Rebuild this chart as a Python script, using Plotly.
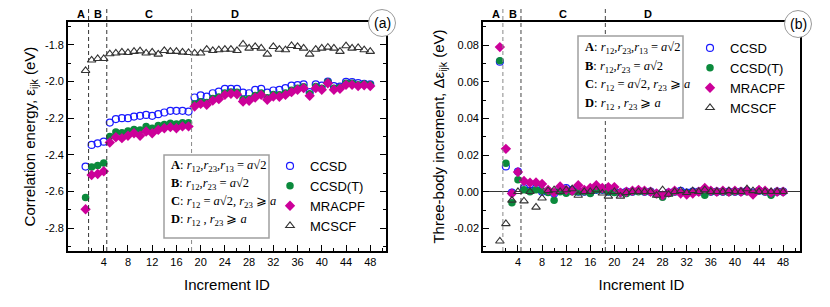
import plotly.graph_objects as go

W, H = 830, 307

# ---------------- data ----------------
increment_id = list(range(1, 49))

ccsd_corr = [-2.464,
             -2.346, -2.337, -2.328,
             -2.224, -2.205, -2.200, -2.200, -2.191, -2.187, -2.182, -2.187, -2.178, -2.169, -2.160, -2.160, -2.160, -2.164,
             -2.087, -2.076, -2.082, -2.064, -2.055, -2.040, -2.040, -2.040, -2.060, -2.064, -2.045, -2.040, -2.060, -2.049,
             -2.045, -2.036, -2.022, -2.020, -2.016, -2.058, -2.016, -2.022, -2.000, -2.025, -2.028, -2.002, -2.003, -2.009,
             -2.012, -2.016]
ccsdt_corr = [-2.633,
              -2.467, -2.458, -2.445,
              -2.300, -2.275, -2.280, -2.270, -2.262, -2.265, -2.245, -2.255, -2.240, -2.235, -2.228, -2.232, -2.225, -2.225,
              -2.122, -2.110, -2.114, -2.092, -2.084, -2.062, -2.057, -2.058, -2.097, -2.094, -2.076, -2.062, -2.088, -2.071,
              -2.072, -2.062, -2.048, -2.036, -2.028, -2.067, -2.027, -2.036, -2.003, -2.036, -2.032, -2.010, -2.010, -2.017,
              -2.013, -2.017]
mracpf_corr = [-2.697,
               -2.510, -2.505, -2.490,
               -2.333, -2.304, -2.309, -2.296, -2.282, -2.296, -2.273, -2.282, -2.264, -2.255, -2.249, -2.255, -2.245, -2.245,
               -2.136, -2.122, -2.127, -2.104, -2.096, -2.073, -2.067, -2.069, -2.109, -2.105, -2.087, -2.073, -2.100, -2.082,
               -2.083, -2.073, -2.058, -2.045, -2.036, -2.078, -2.036, -2.045, -2.009, -2.045, -2.040, -2.018, -2.018, -2.025,
               -2.020, -2.025]
mcscf_corr = [-1.940,
              -1.883, -1.875, -1.875,
              -1.849, -1.845, -1.840, -1.842, -1.836, -1.833, -1.845, -1.840, -1.851, -1.831, -1.836, -1.836, -1.840, -1.842,
              -1.845, -1.845, -1.824, -1.831, -1.827, -1.824, -1.824, -1.831, -1.796, -1.818, -1.809, -1.818, -1.851, -1.809,
              -1.824, -1.827, -1.804, -1.809, -1.818, -1.851, -1.824, -1.818, -1.813, -1.818, -1.836, -1.805, -1.818, -1.815,
              -1.827, -1.836]

ccsd_inc = [0.0710, 0.0138, -0.0005, 0.0110, 0.0020, 0.0005, 0.0020, 0.0000, 0.0000, -0.0010, 0.0005, 0.0020,
            0.0010, 0.0000, 0.0000, -0.0005, 0.0010, 0.0010, 0.0000, 0.0000, -0.0005, 0.0000, 0.0000, 0.0005,
            0.0000, 0.0000, -0.0010, -0.0020, -0.0005, 0.0000, 0.0005, -0.0005, 0.0000, 0.0000, 0.0000, 0.0000,
            0.0000, 0.0000, 0.0000, 0.0000, 0.0000, 0.0005, -0.0005, 0.0005, 0.0000, -0.0010, 0.0000, 0.0000]
ccsdt_inc = [0.0715, 0.0156, -0.0060, 0.0065, 0.0011, 0.0000, 0.0010, 0.0005, -0.0005, -0.0047, 0.0000, -0.0009,
             0.0000, 0.0000, 0.0000, -0.0010, 0.0010, 0.0010, 0.0000, -0.0005, -0.0005, -0.0010, 0.0000, 0.0000,
             0.0000, 0.0000, -0.0015, -0.0030, -0.0010, 0.0000, -0.0005, -0.0010, -0.0005, 0.0000, -0.0020, 0.0000,
             0.0000, 0.0000, -0.0005, 0.0000, 0.0000, 0.0000, -0.0010, 0.0005, 0.0000, -0.0020, 0.0000, 0.0000]
mracpf_inc = [0.0790, 0.0234, -0.0010, 0.0107, 0.0058, 0.0049, 0.0050, 0.0042, 0.0010, -0.0005, 0.0029, 0.0010,
              0.0005, 0.0035, 0.0010, 0.0020, 0.0035, 0.0020, 0.0025, 0.0025, -0.0005, 0.0000, 0.0005, 0.0010,
              0.0005, 0.0000, -0.0010, -0.0020, -0.0005, 0.0005, -0.0010, -0.0015, -0.0010, 0.0000, 0.0020, 0.0005,
              0.0000, 0.0005, 0.0000, 0.0005, 0.0000, 0.0005, -0.0015, 0.0010, 0.0005, -0.0005, 0.0000, 0.0000]
mcscf_inc = [-0.0270, -0.0175, -0.0047, 0.0000, -0.0051, 0.0000, -0.0085, -0.0035, 0.0005, 0.0010, 0.0000, 0.0010,
             0.0015, -0.0020, 0.0000, 0.0000, 0.0010, -0.0008, -0.0025, 0.0000, -0.0025, -0.0005, 0.0000, 0.0000,
             0.0000, 0.0000, -0.0020, 0.0010, -0.0015, 0.0000, 0.0005, -0.0005, 0.0005, 0.0000, 0.0010, 0.0000,
             0.0000, 0.0000, 0.0005, 0.0000, 0.0000, 0.0015, 0.0005, 0.0000, 0.0000, 0.0000, 0.0000, 0.0000]

method_names = ["CCSD", "CCSD(T)", "MRACPF", "MCSCF"]
region_bounds = [1.5, 4.5, 18.5]
region_labels = ["A", "B", "C", "D"]
region_label_x = [0.3, 3.1, 11.4, 25.6]
x_tickvals = list(range(4, 49, 4))
corr_ticks = [-2.8, -2.6, -2.4, -2.2, -2.0, -1.8]
inc_ticks = [-0.02, 0.0, 0.02, 0.04, 0.06, 0.08]

# ---------------- style ----------------
SANS = "Arial, Liberation Sans, sans-serif"
SERIF = "Times New Roman, Liberation Serif, serif"
styles = {
    "CCSD": dict(symbol="circle-open", size=7, color="#1a1aff", line=dict(width=1.2, color="#1a1aff")),
    "CCSD(T)": dict(symbol="circle", size=7.5, color="#0b8a3c", line=dict(width=0)),
    "MRACPF": dict(symbol="diamond", size=8, color="#cc0099", line=dict(width=0)),
    "MCSCF": dict(symbol="triangle-up-open", size=7.5, color="#333333", line=dict(width=1.1, color="#333333")),
}


def px_x(p):
    return p / W


def px_y(p):
    return 1 - p / H


fig = go.Figure()

corr_sets = [ccsd_corr, ccsdt_corr, mracpf_corr, mcscf_corr]
inc_sets = [ccsd_inc, ccsdt_inc, mracpf_inc, mcscf_inc]
for name, ys in zip(method_names, corr_sets):
    fig.add_trace(go.Scatter(x=increment_id, y=ys, mode="markers", name=name,
                             marker=styles[name], xaxis="x", yaxis="y", legend="legend"))
for name, ys in zip(method_names, inc_sets):
    fig.add_trace(go.Scatter(x=increment_id, y=ys, mode="markers", name=name,
                             marker=styles[name], xaxis="x2", yaxis="y2", legend="legend2"))

ydom = [px_y(251), px_y(22)]
axis_common = dict(showline=True, linecolor="black", linewidth=1.6, ticks="inside", ticklen=6,
                   tickwidth=1.2, tickcolor="black", showgrid=False, zeroline=False, automargin=False,
                   tickfont=dict(family=SANS, size=11, color="black"))

fig.update_layout(
    xaxis=dict(domain=[px_x(68), px_x(386)], range=[-1.9, 50.6], anchor="y", mirror=True,
               tickmode="array", tickvals=x_tickvals,
               minor=dict(tickvals=[v - 2 for v in x_tickvals] + [50], ticks="inside", ticklen=3, tickcolor="black"),
               title=dict(text="Increment ID", font=dict(family=SANS, size=15), standoff=12), **axis_common),
    yaxis=dict(domain=ydom, range=[-2.925, -1.675], anchor="x", mirror="ticks",
               tickmode="array", tickvals=corr_ticks, ticktext=[f"{v:.1f}" for v in corr_ticks],
               minor=dict(dtick=0.1, tick0=-1.9, ticks="inside", ticklen=3, tickcolor="black"),
               title=dict(text="Correlation energy, ε<sub>ijk</sub> (eV)", font=dict(family=SANS, size=15),
                          standoff=6), **axis_common),
    xaxis2=dict(domain=[px_x(483), px_x(800)], range=[-1.8, 50.8], anchor="y2", mirror=True,
                tickmode="array", tickvals=x_tickvals,
                minor=dict(tickvals=[v - 2 for v in x_tickvals] + [50], ticks="inside", ticklen=3, tickcolor="black"),
                title=dict(text="Increment ID", font=dict(family=SANS, size=15), standoff=12), **axis_common),
    yaxis2=dict(domain=ydom, range=[-0.0324, 0.0927], anchor="x2", mirror=True,
                tickmode="array", tickvals=inc_ticks, ticktext=[f"{v:.2f}" for v in inc_ticks],
                minor=dict(dtick=0.01, tick0=0, ticks="inside", ticklen=3, tickcolor="black"),
                title=dict(text="Three-body increment, Δε<sub>ijk</sub> (eV)", font=dict(family=SANS, size=15),
                           standoff=6), **axis_common),
)
fig.layout.yaxis2.zeroline = True
fig.layout.yaxis2.zerolinecolor = "#333333"
fig.layout.yaxis2.zerolinewidth = 1.4

fig.update_layout(
    width=W, height=H, autosize=False, template="none",
    margin=dict(l=0, r=0, t=0, b=0),
    paper_bgcolor="white", plot_bgcolor="white",
    font=dict(family=SANS, size=12, color="black"),
    legend=dict(x=px_x(270), y=px_y(151), xanchor="left", yanchor="top", bgcolor="rgba(0,0,0,0)",
                font=dict(family=SANS, size=13), borderwidth=0, tracegroupgap=0),
    legend2=dict(x=px_x(690), y=px_y(33), xanchor="left", yanchor="top", bgcolor="rgba(0,0,0,0)",
                 font=dict(family=SANS, size=13), borderwidth=0, tracegroupgap=0),
)

shapes = []
annotations = []
dash_colors = {"x": ["#333333", "#333333", "#888888"], "x2": ["#888888", "#444444", "#444444"]}
for xr in ["x", "x2"]:
    for xb, col in zip(region_bounds, dash_colors[xr]):
        shapes.append(dict(type="line", xref=xr, yref="paper", x0=xb, x1=xb, y0=ydom[0], y1=px_y(7),
                           line=dict(color=col, width=1, dash="4px,3px"), layer="above"))
    for lab, lx in zip(region_labels, region_label_x):
        annotations.append(dict(text=f"<b>{lab}</b>", x=lx, y=px_y(13.5), xref=xr, yref="paper",
                                showarrow=False, font=dict(family=SANS, size=11), xanchor="center",
                                yanchor="middle"))

# condition boxes
box_lines = [
    "<b>A</b>: <i>r</i><sub>12</sub>,<i>r</i><sub>23</sub>,<i>r</i><sub>13</sub> = <i>a</i>√2",
    "<b>B</b>: <i>r</i><sub>12</sub>,<i>r</i><sub>23</sub> = <i>a</i>√2",
    "<b>C</b>: <i>r</i><sub>12</sub> = <i>a</i>√2, <i>r</i><sub>23</sub> ⩾ <i>a</i>",
    "<b>D</b>: <i>r</i><sub>12</sub> , <i>r</i><sub>23</sub> ⩾ <i>a</i>",
]
boxes = [dict(x0=164, x1=269, y0=155, y1=238, tx=169, ty=[166, 184, 202, 220]),
         dict(x0=578, x1=683, y0=36, y1=118, tx=583, ty=[47.5, 66.5, 85, 104])]
for b in boxes:
    shapes.append(dict(type="rect", xref="paper", yref="paper", x0=px_x(b["x0"]), x1=px_x(b["x1"]),
                       y0=px_y(b["y1"]), y1=px_y(b["y0"]), line=dict(color="#a0a0a0", width=1.5),
                       fillcolor="white", layer="above"))
    for t, ty in zip(box_lines, b["ty"]):
        annotations.append(dict(text=t, x=px_x(b["tx"]), y=px_y(ty), xref="paper", yref="paper",
                                showarrow=False, xanchor="left", yanchor="middle",
                                font=dict(family=SERIF, size=12.5)))

# panel labels
for lab, cx, cy in [("(a)", 382, 23), ("(b)", 798, 24)]:
    r = 13.5
    shapes.append(dict(type="circle", xref="paper", yref="paper", x0=px_x(cx - r), x1=px_x(cx + r),
                       y0=px_y(cy + r), y1=px_y(cy - r), line=dict(color="#999999", width=1),
                       fillcolor="white", layer="above"))
    annotations.append(dict(text=lab, x=px_x(cx), y=px_y(cy), xref="paper", yref="paper", showarrow=False,
                            xanchor="center", yanchor="middle", font=dict(family=SANS, size=14)))

fig.update_layout(shapes=shapes, annotations=annotations)
fig.write_html("out.html", config={"displayModeBar": False},
               post_script="document.body.style.margin='0px';document.body.style.padding='0px';")
